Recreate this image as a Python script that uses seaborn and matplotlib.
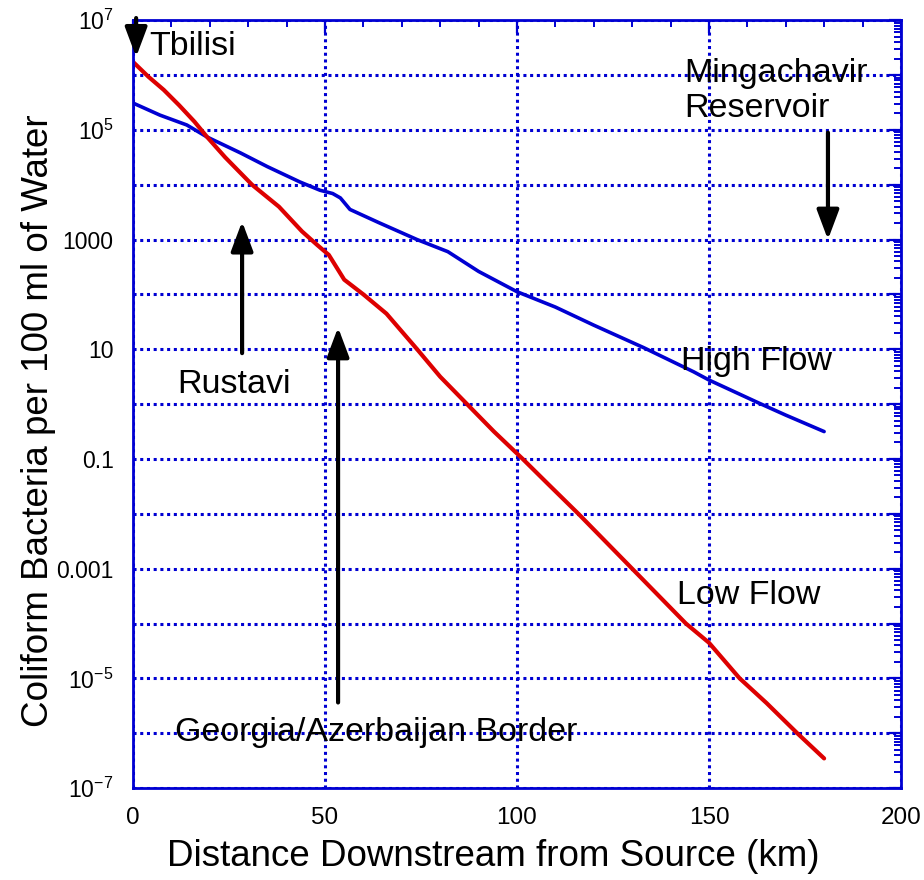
import numpy as np
import pandas as pd
import matplotlib
matplotlib.use('Agg')
import matplotlib.pyplot as plt
import matplotlib.ticker as mticker
import seaborn as sns

# ---- data (log10 of coliform count per 100 ml) ----
high_km = [0, 7, 14, 19.3, 28, 35, 43.5, 48.7, 52, 54, 56.5, 64, 74, 82, 90,
           100, 110, 120, 133, 146, 150, 163, 170, 180]
high_log = [5.49, 5.27, 5.09, 4.87, 4.58, 4.33, 4.05, 3.9, 3.84, 3.76, 3.55,
            3.31, 3.0, 2.78, 2.42, 2.05, 1.77, 1.44, 1.03, 0.59, 0.44, 0.02,
            -0.2, -0.5]

low_km = [0, 4, 8, 12, 16, 19.3, 24, 31, 38, 44, 48, 51, 55, 60, 66, 74, 80,
          87, 94, 101.5, 108, 116, 123, 130, 137, 144, 150, 158, 165, 173, 180]
low_log = [6.24, 5.97, 5.73, 5.45, 5.15, 4.87, 4.5, 4.0, 3.6, 3.15, 2.9, 2.72,
           2.27, 2.0, 1.65, 1.0, 0.5, 0.0, -0.5, -1.0, -1.45, -2.0, -2.5,
           -3.0, -3.5, -4.0, -4.35, -5.0, -5.45, -6.0, -6.46]

ytick_exp = [7, 5, 3, 1, -1, -3, -5, -7]
ytick_txt = ['10$^{7}$', '10$^{5}$', '1000', '10', '0.1', '0.001',
             '10$^{-5}$', '10$^{-7}$']
xticks = [0, 50, 100, 150, 200]

# place names: (label, x, log10 y of baseline)
labels = [
    ('Tbilisi', 4.2, 6.36),
    ('Mingachavir', 143.5, 5.87),
    ('Reservoir', 143.5, 5.24),
    ('High Flow', 142.7, 0.62),
    ('Low Flow', 141.7, -3.65),
    ('Rustavi', 11.5, 0.20),
    ('Georgia/Azerbaijan Border', 10.9, -6.15),
]
# arrows: (x, log10 start, log10 tip)
arrows = [
    (0.8, 7.04, 6.33),
    (181, 4.95, 3.0),
    (28.4, 0.93, 3.33),
    (53.4, -5.44, 1.4),
]

BLUE = '#0000d2'
RED = '#dd0000'

sns.set_theme(style='white')
plt.rcParams['font.family'] = ['Liberation Sans', 'DejaVu Sans']
plt.rcParams['mathtext.fontset'] = 'custom'
plt.rcParams['mathtext.rm'] = 'Liberation Sans'
plt.rcParams['mathtext.it'] = 'Liberation Sans:italic'
plt.rcParams['mathtext.bf'] = 'Liberation Sans:bold'
plt.rcParams['axes.labelcolor'] = 'black'
plt.rcParams['text.color'] = 'black'

df = pd.concat([
    pd.DataFrame({'km': high_km, 'count': 10.0 ** np.array(high_log), 'flow': 'High Flow'}),
    pd.DataFrame({'km': low_km, 'count': 10.0 ** np.array(low_log), 'flow': 'Low Flow'}),
])

fig = plt.figure(figsize=(9.24, 8.8), dpi=100)
ax = fig.add_axes([0.144, 0.1045, 0.831, 0.8725])
ax.set_yscale('log')

sns.lineplot(data=df[df.flow == 'High Flow'], x='km', y='count', color=BLUE,
             lw=2.6, estimator=None, sort=False, ax=ax, legend=False)
sns.lineplot(data=df[df.flow == 'Low Flow'], x='km', y='count', color=RED,
             lw=3.0, estimator=None, sort=False, ax=ax, legend=False)

ax.set_xlim(0, 200)
ax.set_ylim(1e-7, 1e7)

ax.xaxis.set_major_locator(mticker.FixedLocator(xticks))
ax.xaxis.set_minor_locator(mticker.MultipleLocator(10))
ax.set_xticklabels([str(v) for v in xticks])

lab = dict(zip(ytick_exp, ytick_txt))
ax.yaxis.set_major_locator(mticker.FixedLocator([10.0 ** k for k in range(-7, 8)]))
ax.yaxis.set_minor_locator(mticker.LogLocator(base=10, subs=np.arange(2, 10), numticks=30))
ax.yaxis.set_major_formatter(mticker.FuncFormatter(
    lambda v, p: lab.get(int(round(np.log10(v))), '')))
ax.yaxis.set_minor_formatter(mticker.NullFormatter())

ax.tick_params(which='both', direction='in', top=True, right=True,
               color=BLUE, labelcolor='black', labelsize=16.5, pad=14)
ax.tick_params(axis='x', labelsize=17.5)
ax.tick_params(which='major', length=9, width=1.6)
ax.tick_params(which='minor', length=5, width=1.4)

ax.grid(True, which='major', color=BLUE, linestyle=(0, (1, 1.2)), lw=2.2)
for s in ax.spines.values():
    s.set_color(BLUE)
    s.set_linewidth(2)

ax.set_xlabel('Distance Downstream from Source (km)', fontsize=26.5, color='black')
ax.set_ylabel('Coliform Bacteria per 100 ml of Water', fontsize=26.5, color='black')
ax.xaxis.set_label_coords(0.469, -0.066)
ax.yaxis.set_label_coords(-0.101, 0.479)

for txt, x, ly in labels:
    ax.text(x, 10.0 ** ly, txt, fontsize=24.5, ha='left', va='baseline', color='black')

for x, y0, y1 in arrows:
    ax.annotate('', xy=(x, 10.0 ** y1), xytext=(x, 10.0 ** y0),
                arrowprops=dict(arrowstyle='-|>,head_length=0.4,head_width=0.15',
                                mutation_scale=45, lw=3, color='black',
                                shrinkA=0, shrinkB=0),
                annotation_clip=False)

fig.savefig('out.png', dpi=100, facecolor='white')
